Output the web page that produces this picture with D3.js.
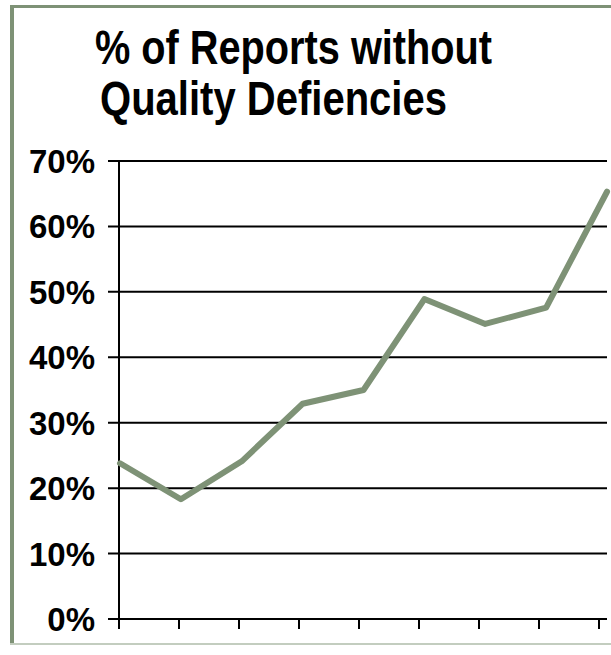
<!doctype html>
<html lang="en">
<head>
  <meta charset="utf-8">
  <title>% of Reports without Quality Defiencies</title>
  <script src="https://d3js.org/d3.v7.min.js"></script>
  <style>
    body { margin: 0; background: #fff; }
  </style>
</head>
<body>
  <div id="chart"></div>
  <script type="text/javascript">

    var width = 611, height = 655;

    // data (x categories carry no labels)
    var categories = [1, 2, 3, 4, 5, 6, 7, 8, 9];
    var values = [23.8, 18.3, 24.1, 32.9, 35.0, 48.9, 45.1, 47.6, 65.3];
    var yTicks = [0, 10, 20, 30, 40, 50, 60, 70];
    var yTickLabels = ['0%', '10%', '20%', '30%', '40%', '50%', '60%', '70%'];
    var titleLines = ['% of Reports without', 'Quality Defiencies'];

    var green = '#7e9276';
    var font = '"Liberation Sans", Arial, sans-serif';

    var svg = d3.select('#chart')
                .append('svg')
                .attr('width', width)
                .attr('height', height);

    // frame
    svg.append('line').attr('x1', 12).attr('x2', 12).attr('y1', 5).attr('y2', 645)
       .attr('stroke', green).attr('stroke-width', 4);
    svg.append('line').attr('x1', 10).attr('x2', width).attr('y1', 6.5).attr('y2', 6.5)
       .attr('stroke', green).attr('stroke-width', 3);
    svg.append('line').attr('x1', 10).attr('x2', width).attr('y1', 644).attr('y2', 644)
       .attr('stroke', '#c3cdbf').attr('stroke-width', 2);

    // title
    var titleX = [95, 100], titleY = [64, 115], titleW = [397, 347];
    svg.selectAll('.title')
       .data(titleLines)
       .enter()
       .append('text')
       .attr('class', 'title')
       .attr('x', function(d, i) { return titleX[i]; })
       .attr('y', function(d, i) { return titleY[i]; })
       .attr('textLength', function(d, i) { return titleW[i]; })
       .attr('lengthAdjust', 'spacingAndGlyphs')
       .style('font-family', font)
       .style('font-weight', 'bold')
       .style('font-size', '49px')
       .attr('fill', '#000')
       .text(function(d) { return d; });

    // scales
    var y = d3.scaleLinear().domain([0, 70]).range([619, 161]);
    var xTick = d3.scalePoint().domain(categories).range([119, 599]);
    var xLine = d3.scalePoint().domain(categories).range([120, 607]);

    // gridlines (they also act as the y ticks, reaching left of the axis)
    svg.selectAll('.grid')
       .data(yTicks)
       .enter()
       .append('line')
       .attr('class', 'grid')
       .attr('x1', 108)
       .attr('x2', 607)
       .attr('y1', function(d) { return y(d); })
       .attr('y2', function(d) { return y(d); })
       .attr('stroke', '#000')
       .attr('stroke-width', 2);

    // y labels
    svg.selectAll('.ylab')
       .data(yTicks)
       .enter()
       .append('text')
       .attr('class', 'ylab')
       .attr('x', 95)
       .attr('y', function(d) { return y(d) + 12; })
       .attr('text-anchor', 'end')
       .style('font-family', font)
       .style('font-weight', 'bold')
       .style('font-size', '33px')
       .text(function(d, i) { return yTickLabels[i]; });

    // y axis line
    svg.append('line')
       .attr('x1', 119).attr('x2', 119)
       .attr('y1', y(70)).attr('y2', 629)
       .attr('stroke', '#000').attr('stroke-width', 2);

    // x axis ticks
    svg.selectAll('.xtick')
       .data(categories)
       .enter()
       .append('line')
       .attr('class', 'xtick')
       .attr('x1', function(d) { return xTick(d); })
       .attr('x2', function(d) { return xTick(d); })
       .attr('y1', y(0))
       .attr('y2', 629)
       .attr('stroke', '#000')
       .attr('stroke-width', 2);

    // the series line
    var line = d3.line()
                 .x(function(d, i) { return xLine(categories[i]); })
                 .y(function(d) { return y(d); });

    svg.append('path')
       .datum(values)
       .attr('d', line)
       .attr('fill', 'none')
       .attr('stroke', green)
       .attr('stroke-width', 6)
       .attr('stroke-linejoin', 'round')
       .attr('stroke-linecap', 'round');

  </script>
</body>
</html>
